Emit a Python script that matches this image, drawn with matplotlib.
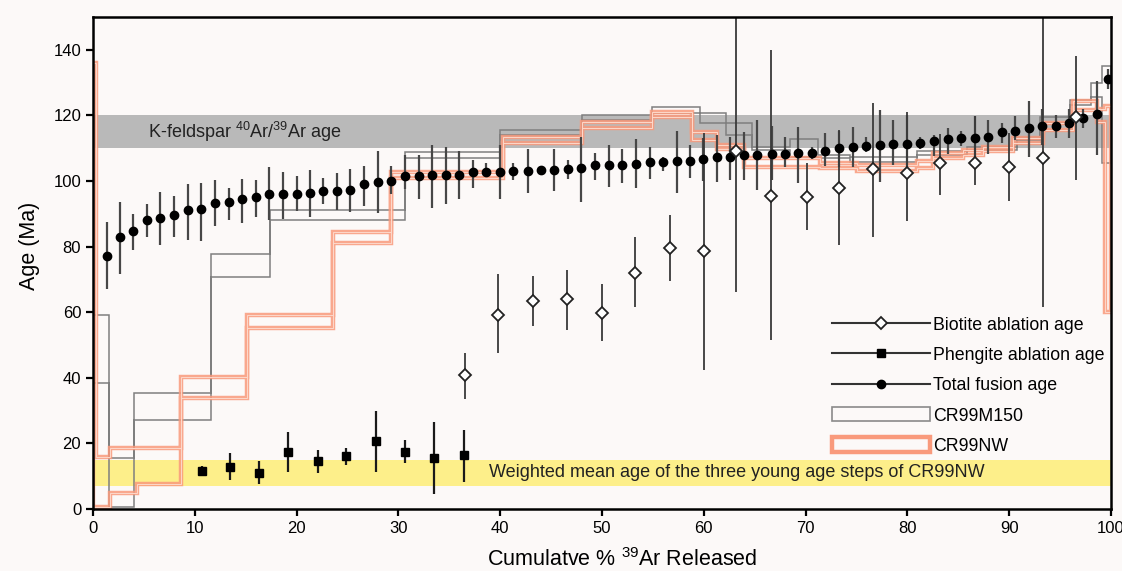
import numpy as np
import matplotlib.pyplot as plt
from matplotlib.patches import Patch
from matplotlib.lines import Line2D

plt.rcParams['font.family'] = ['Liberation Sans', 'DejaVu Sans']
plt.rcParams['mathtext.fontset'] = 'custom'
plt.rcParams['mathtext.rm'] = 'Liberation Sans'
plt.rcParams['mathtext.default'] = 'regular'

# Total fusion ages (cumulative % 39Ar, age, lower and upper error limits)
tf_x = [1.4, 2.7, 3.9, 5.3, 6.6, 8.0, 9.3, 10.6, 12.0, 13.4, 14.6, 16.0, 17.3, 18.7, 20.0,
        21.3, 22.6, 24.0, 25.2, 26.6, 28.0, 29.3, 30.6, 32.0, 33.3, 34.7, 36.0, 37.3, 38.6,
        40.0, 41.3, 42.7, 44.0, 45.3, 46.7, 47.9, 49.3, 50.7, 52.0, 53.3, 54.7, 56.0, 57.4,
        58.6, 59.9, 61.3, 62.6, 63.9, 65.2, 66.7, 68.0, 69.3, 70.6, 71.9, 73.3, 74.7, 75.9,
        77.3, 78.6, 80.0, 81.2, 82.6, 84.0, 85.3, 86.6, 87.9, 89.3, 90.6, 91.9, 93.2, 94.6,
        95.9, 97.2, 98.6, 99.7]
tf_age = [77.1, 83.0, 84.8, 88.1, 88.6, 89.6, 91.0, 91.4, 93.2, 93.5, 94.5, 95.1, 96.0, 96.1,
          96.1, 96.4, 97.0, 97.0, 97.2, 99.0, 99.8, 100.0, 101.6, 101.6, 101.8, 101.8, 101.8,
          102.6, 102.8, 102.8, 103.1, 103.1, 103.3, 103.3, 103.7, 103.9, 104.9, 104.9, 104.9,
          105.2, 105.7, 105.7, 106.2, 106.2, 106.7, 107.4, 107.4, 107.9, 107.9, 108.2, 108.2,
          108.4, 108.6, 109.2, 109.9, 110.4, 110.7, 111.0, 111.3, 111.3, 111.7, 112.2, 112.7,
          113.0, 113.0, 113.3, 114.9, 115.3, 116.0, 116.8, 116.8, 117.6, 119.3, 120.3, 131.0]
tf_lo = [67.0, 71.6, 79.0, 83.0, 80.5, 83.0, 82.0, 81.8, 86.3, 88.0, 87.3, 89.0, 88.1, 88.4,
         90.9, 89.1, 93.0, 91.0, 90.4, 92.5, 90.2, 96.0, 97.5, 94.5, 91.7, 93.0, 94.4, 98.0,
         101.5, 94.5, 100.3, 96.3, 102.0, 96.8, 100.6, 93.7, 100.3, 98.3, 99.5, 97.8, 100.6,
         103.0, 96.4, 100.8, 100.0, 99.8, 100.3, 100.3, 97.2, 100.3, 104.3, 99.5, 106.6, 104.6,
         104.3, 104.3, 108.9, 99.8, 104.9, 103.0, 109.6, 107.7, 108.2, 110.7, 107.4, 108.2,
         111.7, 112.6, 107.4, 111.0, 113.0, 113.0, 116.0, 107.9, 128.0]
tf_hi = [87.5, 93.6, 90.0, 93.0, 96.5, 95.5, 99.0, 99.5, 100.3, 98.0, 100.5, 100.3, 104.4,
         102.8, 101.5, 103.4, 101.0, 102.4, 103.5, 104.7, 109.0, 104.7, 108.0, 107.8, 111.0,
         110.5, 109.0, 106.4, 105.4, 111.0, 105.4, 109.8, 104.7, 109.8, 106.4, 113.5, 108.5,
         111.0, 109.8, 112.8, 110.5, 107.2, 115.3, 111.0, 113.0, 114.0, 113.5, 114.8, 118.6,
         116.8, 113.5, 116.5, 110.5, 114.6, 115.3, 116.4, 113.4, 121.6, 118.6, 120.0, 113.5,
         114.0, 116.0, 115.3, 119.7, 118.6, 117.8, 119.7, 124.5, 122.0, 120.0, 122.0, 122.0,
         130.6, 134.0]

# Biotite ablation ages
bt_x = [36.5, 39.8, 43.2, 46.6, 50.0, 53.2, 56.7, 60.0, 63.2, 66.6, 70.1, 73.3, 76.6, 80.0,
        83.2, 86.6, 90.0, 93.3, 96.6]
bt_age = [40.9, 59.1, 63.4, 63.9, 59.9, 71.9, 79.5, 78.6, 109.0, 95.4, 95.2, 97.8, 103.7,
          102.4, 105.4, 105.4, 104.4, 106.9, 119.4]
bt_lo = [33.5, 47.7, 55.8, 54.6, 51.2, 61.6, 69.5, 42.4, 66.0, 51.5, 85.0, 80.5, 82.8, 87.9,
         95.7, 98.8, 94.0, 61.7, 100.3]
bt_hi = [47.7, 71.5, 71.0, 73.0, 68.7, 83.0, 89.6, 114.6, 152.0, 140.0, 105.4, 115.5, 123.7,
         120.9, 114.2, 119.7, 114.6, 152.0, 138.0]

# Phengite ablation ages
ph_x = [10.7, 13.5, 16.3, 19.2, 22.1, 24.9, 27.8, 30.6, 33.5, 36.4]
ph_age = [11.7, 12.9, 11.1, 17.5, 14.6, 16.2, 20.7, 17.5, 15.4, 16.5]
ph_lo = [10.3, 8.8, 7.6, 11.4, 11.1, 13.4, 11.2, 13.9, 4.5, 8.3]
ph_hi = [13.2, 17.0, 14.6, 23.6, 18.0, 18.5, 29.9, 21.0, 26.6, 24.1]

# Step-heating spectrum CR99M150 (step edges, lower and upper age of each step)
m150_edges = [0.0, 1.6, 4.0, 11.6, 17.4, 30.6, 40.0, 48.0, 54.9, 59.6, 62.2, 64.7, 68.5,
              71.2, 74.4, 80.9, 85.9, 90.8, 93.0, 96.0, 98.0, 99.1, 100.0]
m150_lo = [38.5, 0.7, 27.1, 70.6, 88.1, 106.9, 114.0, 118.6, 120.6, 117.6, 114.0, 109.5,
           107.4, 106.9, 105.9, 108.0, 109.4, 112.5, 117.6, 123.2, 125.7, 105.4]
m150_hi = [59.1, 15.4, 35.5, 77.7, 91.2, 108.9, 115.5, 120.1, 122.7, 120.8, 117.6, 110.5,
           112.7, 108.0, 107.4, 109.0, 110.5, 113.5, 119.6, 124.7, 129.8, 134.9]

# Step-heating spectrum CR99NW
nw_edges = [0.0, 0.3, 1.7, 4.3, 8.6, 15.1, 23.6, 29.3, 40.3, 48.0, 54.9, 58.8, 61.3, 63.9,
            71.4, 75.0, 80.9, 82.5, 85.5, 87.4, 90.4, 93.3, 96.3, 98.6, 99.4, 100.0]
nw_lo = [0.5, 0.5, 5.0, 7.7, 33.7, 55.1, 81.0, 101.0, 111.5, 116.0, 119.6, 112.5, 109.6,
         104.4, 103.9, 103.0, 104.0, 107.0, 108.0, 109.0, 111.5, 115.5, 121.6, 118.0, 60.0]
nw_hi = [136.0, 16.0, 18.5, 18.5, 40.3, 59.1, 84.5, 102.8, 113.5, 118.0, 121.1, 115.0,
         111.0, 106.9, 105.4, 105.0, 106.0, 108.5, 109.5, 110.5, 113.0, 117.6, 124.5, 122.0,
         123.0]

kfs_band = (110, 120)
young_band = (7, 15)

BG = '#fcf9f8'
NW_COLOR = '#f99a7c'
NW_INNER = '#fdd8ca'
GRAY = '#7f7f7f'

fig = plt.figure(figsize=(11.22, 5.71), dpi=100, facecolor=BG)
ax = fig.add_axes([0.0829, 0.1086, 0.9073, 0.8617], facecolor=BG)

ax.axhspan(*kfs_band, color='#b9b9b9', lw=0, zorder=0.5)
ax.axhspan(*young_band, color='#fdef8a', lw=0, zorder=0.5)
ax.text(5.4, np.mean(kfs_band), r'K-feldspar $^{40}$Ar/$^{39}$Ar age', va='center',
        fontsize=13, color='#222222', zorder=1)
ax.text(38.9, np.mean(young_band), 'Weighted mean age of the three young age steps of CR99NW',
        va='center', fontsize=13, color='#222222', zorder=1)

# step spectra: upper and lower envelopes joined as one closed outline
ax.stairs(m150_hi, m150_edges, baseline=m150_lo, fill=False, color=GRAY, lw=1.1, zorder=2)
ax.stairs(nw_hi, nw_edges, baseline=nw_lo, fill=False, color=NW_COLOR, lw=3.2,
          alpha=0.85, zorder=2.5)
ax.stairs(nw_hi, nw_edges, baseline=nw_lo, fill=False, color=NW_INNER, lw=0.7, zorder=2.6)


def asym_err(mid, lo, hi):
    mid, lo, hi = np.array(mid), np.array(lo), np.array(hi)
    return [mid - lo, hi - mid]


ax.errorbar(tf_x, tf_age, yerr=asym_err(tf_age, tf_lo, tf_hi), fmt='o', ms=6,
            mfc='black', mec='black', ecolor='#474747', elinewidth=1.6, capsize=0, zorder=4)
ax.errorbar(bt_x, bt_age, yerr=asym_err(bt_age, bt_lo, bt_hi), fmt='D', ms=6,
            mfc='white', mec='#222222', mew=1.3, ecolor='#3a3a3a', elinewidth=1.3,
            capsize=0, zorder=4)
ax.errorbar(ph_x, ph_age, yerr=asym_err(ph_age, ph_lo, ph_hi), fmt='s', ms=6,
            mfc='black', mec='black', ecolor='#1a1a1a', elinewidth=1.6, capsize=0, zorder=4)

ax.set_xlim(0, 100)
ax.set_ylim(0, 150)
ax.set_xticks(range(0, 101, 10))
ax.set_yticks(range(0, 141, 20))
ax.tick_params(direction='out', length=5, width=1.6, labelsize=12, color='black')
for sp in ax.spines.values():
    sp.set_linewidth(1.8)
    sp.set_zorder(6)

ax.set_xlabel(r'Cumulatve % $^{39}$Ar Released', fontsize=15.5)
ax.xaxis.set_label_coords(0.52, -0.08)
ax.set_ylabel('Age (Ma)', fontsize=15.5)
ax.yaxis.set_label_coords(-0.052, 0.535)

handles = [
    Line2D([], [], color='#333333', lw=1.5, marker='D', ms=6, mfc='white', mec='#222222', mew=1.3),
    Line2D([], [], color='#333333', lw=1.5, marker='s', ms=6, mfc='black', mec='black'),
    Line2D([], [], color='#333333', lw=1.5, marker='o', ms=6, mfc='black', mec='black'),
    Patch(fc='none', ec='#8a8a8a', lw=1.2),
    Patch(fc='none', ec=NW_COLOR, lw=3.2),
]
labels = ['Biotite ablation age', 'Phengite ablation age', 'Total fusion age',
          'CR99M150', 'CR99NW']
ax.legend(handles, labels, loc='upper left', bbox_to_anchor=(0.726, 0.391), frameon=False,
          fontsize=12.8, handlelength=5.5, handleheight=0.85, handletextpad=0.2,
          labelspacing=0.73, borderpad=0, borderaxespad=0)

fig.savefig('out.png', dpi=100, facecolor=BG)
